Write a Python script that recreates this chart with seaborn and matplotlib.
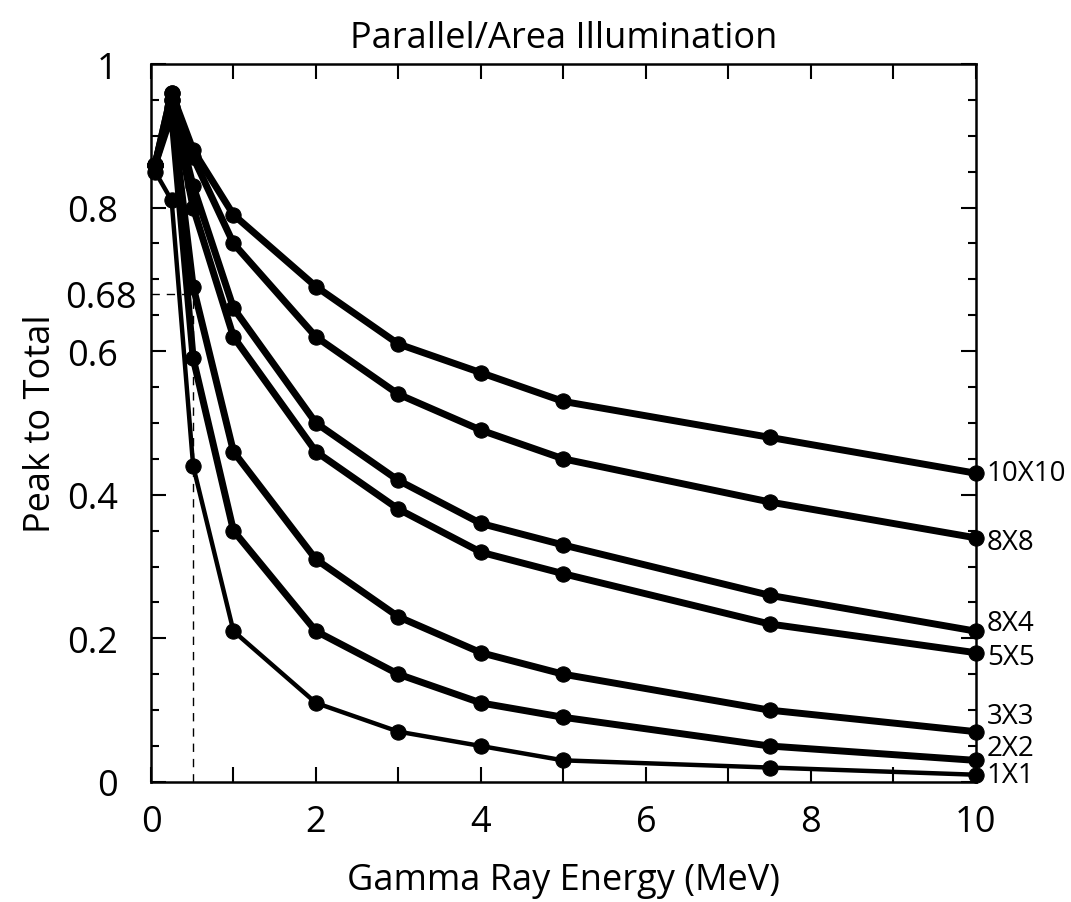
import numpy as np
import pandas as pd
import matplotlib
matplotlib.use('Agg')
import matplotlib.pyplot as plt
import matplotlib.transforms as mtransforms
import seaborn as sns
from matplotlib.ticker import MultipleLocator

# Gamma ray energies (MeV)
energy = [0.05, 0.25, 0.511, 1, 2, 3, 4, 5, 7.5, 10]

# Peak-to-total ratio per detector size
p_10x10 = [0.86, 0.96, 0.88, 0.79, 0.69, 0.61, 0.57, 0.53, 0.48, 0.43]
p_8x8 = [0.86, 0.96, 0.87, 0.75, 0.62, 0.54, 0.49, 0.45, 0.39, 0.34]
p_8x4 = [0.86, 0.95, 0.83, 0.66, 0.50, 0.42, 0.36, 0.33, 0.26, 0.21]
p_5x5 = [0.86, 0.95, 0.80, 0.62, 0.46, 0.38, 0.32, 0.29, 0.22, 0.18]
p_3x3 = [0.86, 0.94, 0.69, 0.46, 0.31, 0.23, 0.18, 0.15, 0.10, 0.07]
p_2x2 = [0.86, 0.93, 0.59, 0.35, 0.21, 0.15, 0.11, 0.09, 0.05, 0.03]
p_1x1 = [0.85, 0.81, 0.44, 0.21, 0.11, 0.07, 0.05, 0.03, 0.02, 0.01]

series_names = ['10X10', '8X8', '8X4', '5X5', '3X3', '2X2', '1X1']
series_vals = [p_10x10, p_8x8, p_8x4, p_5x5, p_3x3, p_2x2, p_1x1]

ytick_vals = [0, 0.2, 0.4, 0.6, 0.68, 0.8, 1]
ytick_labels = ['0', '0.2', '0.4', '0.6', '0.68', '0.8', '1']

df = pd.DataFrame({
    'energy': np.tile(energy, len(series_names)),
    'ratio': np.concatenate(series_vals),
    'size': np.repeat(series_names, len(energy)),
})

sns.set_theme(style='ticks')
plt.rcParams['font.family'] = ['Open Sans', 'DejaVu Sans']
for key in ['text.color', 'axes.labelcolor', 'xtick.color', 'ytick.color', 'axes.edgecolor']:
    plt.rcParams[key] = 'black'

fig = plt.figure(figsize=(10.71, 9.03), dpi=100)
ax = fig.add_axes([0.141, 0.133, 0.77, 0.795])

# label nudges in points so the end labels don't collide
label_dy = {'10X10': 0, '8X8': -3, '8X4': 6, '5X5': -3, '3X3': 11, '2X2': 9, '1X1': 0}

for name in series_names:
    sub = df[df['size'] == name]
    lw = 3.2 if name == '1X1' else 5
    sns.lineplot(data=sub, x='energy', y='ratio', ax=ax, color='black',
                 linewidth=lw, marker='o', markersize=11, markeredgecolor='black',
                 sort=False, clip_on=False, zorder=3)
    ax.annotate(name, xy=(sub['energy'].iloc[-1], sub['ratio'].iloc[-1]),
                xytext=(8, label_dy[name]), textcoords='offset points',
                va='center', ha='left', fontsize=20, annotation_clip=False)

# 511 keV reference lines
ax.plot([0.511, 0.511], [0, 0.68], color='black', linestyle='--', linewidth=1, dashes=(6, 5))
ax.plot([0, 0.511], [0.68, 0.68], color='black', linestyle='--', linewidth=1, dashes=(6, 5))

ax.set_xlim(0, 10)
ax.set_ylim(0, 1)
ax.xaxis.set_major_locator(MultipleLocator(2))
ax.xaxis.set_minor_locator(MultipleLocator(1))
ax.set_yticks(ytick_vals)
ax.set_yticklabels(ytick_labels)
ax.yaxis.set_minor_locator(MultipleLocator(0.05))

ax.tick_params(which='both', direction='in', top=True, right=True, width=1.5,
               labelsize=26)
ax.tick_params(axis='y', which='major', length=11, pad=24)
ax.tick_params(axis='y', which='minor', length=6)
ax.tick_params(axis='x', which='both', length=11, pad=16)

# no tick mark at 0.68, only the label (sitting a bit further right)
shift = mtransforms.ScaledTranslation(0.19, 0, fig.dpi_scale_trans)
for tick in ax.yaxis.get_major_ticks():
    if abs(tick.get_loc() - 0.68) < 1e-6:
        tick.tick1line.set_visible(False)
        tick.tick2line.set_visible(False)
        tick.label1.set_transform(tick.label1.get_transform() + shift)

for sp in ax.spines.values():
    sp.set_linewidth(1.8)

ax.set_xlabel('Gamma Ray Energy (MeV)', fontsize=26, labelpad=16)
ax.set_ylabel('Peak to Total', fontsize=26, labelpad=4)
ax.set_title('Parallel/Area Illumination', fontsize=26, pad=12)

plt.savefig('out.png', dpi=100)
plt.close()
